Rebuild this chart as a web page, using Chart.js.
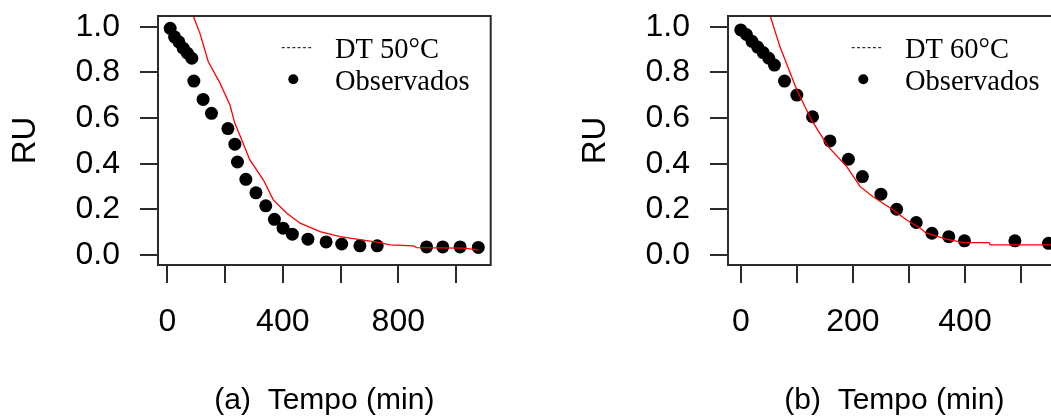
<!DOCTYPE html>
<html>
<head>
<meta charset="utf-8">
<script src="https://cdn.jsdelivr.net/npm/chart.js@4/dist/chart.umd.min.js"></script>
<style>
  html, body { margin: 0; padding: 0; background: #fff; overflow: hidden; }
  #wrap { position: relative; width: 1051px; height: 419px; overflow: hidden; }
  #wrap canvas { position: absolute; top: 0; }
  #cA { left: 0; }
  #cB { left: 570px; }
</style>
</head>
<body>
<div id="wrap">
  <canvas id="cA" width="525" height="419"></canvas>
  <canvas id="cB" width="525" height="419"></canvas>
</div>
<script>
// DT 50 °C - observados
var tempoObsA = [10, 25, 40, 55, 70, 85, 92, 124, 153, 210, 234, 243, 272, 307, 341, 371, 401, 433, 487, 550, 604, 667, 727, 898, 954, 1014, 1077];
var ruObsA = [0.993, 0.956, 0.934, 0.906, 0.884, 0.862, 0.762, 0.682, 0.621, 0.554, 0.486, 0.408, 0.332, 0.273, 0.216, 0.157, 0.118, 0.092, 0.070, 0.058, 0.049, 0.041, 0.041, 0.036, 0.036, 0.036, 0.034];
// DT 50 °C - modelo ajustado
var tempoFitA = [60, 90, 113, 142, 183, 217, 234, 258, 286, 333, 367, 414, 460, 529, 598, 691, 737, 771, 852, 864, 1025, 1077];
var ruFitA = [1.14, 1.047, 0.971, 0.847, 0.752, 0.657, 0.577, 0.504, 0.417, 0.329, 0.242, 0.184, 0.140, 0.103, 0.081, 0.064, 0.055, 0.045, 0.041, 0.033, 0.031, 0.023];

// DT 60 °C - observados
var tempoObsB = [0, 10, 20, 30, 40, 50, 60, 78, 100, 128, 159, 192, 217, 250, 278, 313, 341, 371, 399, 489, 549];
var ruObsB = [0.986, 0.966, 0.936, 0.911, 0.887, 0.862, 0.832, 0.762, 0.701, 0.606, 0.500, 0.420, 0.344, 0.267, 0.201, 0.143, 0.096, 0.081, 0.063, 0.063, 0.052];
// DT 60 °C - modelo ajustado
var tempoFitB = [30, 52, 70, 100, 126, 156, 189, 213, 236, 272, 296, 320, 331, 367, 397, 443, 445, 553];
var ruFitB = [1.22, 1.051, 0.912, 0.723, 0.592, 0.475, 0.388, 0.300, 0.256, 0.198, 0.154, 0.118, 0.096, 0.070, 0.055, 0.055, 0.045, 0.045];

var xTicksA = [0, 200, 400, 600, 800, 1000];
var xLabelsA = ['0', '', '400', '', '800', ''];
var xTicksB = [0, 100, 200, 300, 400, 500];
var xLabelsB = ['0', '', '200', '', '400', ''];
var yTicks = [0, 0.2, 0.4, 0.6, 0.8, 1.0];
var yLabels = ['0.0', '0.2', '0.4', '0.6', '0.8', '1.0'];

var AXIS_COLOR = '#2b2b2b';

function pairs(xs, ys) {
  return xs.map(function(x, i) { return { x: x, y: ys[i] }; });
}

// moldura em volta da area do grafico + legenda no canto superior direito
var boxLegend = {
  id: 'boxLegend',
  afterDraw: function(chart, args, opts) {
    var ctx = chart.ctx;
    var a = chart.chartArea;
    ctx.save();
    ctx.strokeStyle = AXIS_COLOR;
    ctx.lineWidth = 2;
    ctx.strokeRect(a.left, a.top, a.right - a.left, a.bottom - a.top);

    var tx = a.right - 155.7;
    ctx.font = '28.5px "Liberation Serif", "Times New Roman", serif';
    ctx.fillStyle = '#000';
    ctx.textBaseline = 'alphabetic';
    ctx.textAlign = 'left';
    ctx.fillText(opts.lineLabel, tx, 58.3);
    ctx.fillText(opts.pointLabel, tx, 90);

    ctx.strokeStyle = '#000';
    ctx.lineWidth = 1;
    ctx.setLineDash([3, 2.3]);
    ctx.beginPath();
    ctx.moveTo(tx - 53.3, 47.7);
    ctx.lineTo(tx - 21.7, 47.7);
    ctx.stroke();
    ctx.setLineDash([]);

    ctx.beginPath();
    ctx.arc(tx - 41.7, 79.3, 5, 0, Math.PI * 2);
    ctx.fill();
    ctx.restore();
  }
};

function makePanel(canvasId, obsX, obsY, fitX, fitY, xTicks, xLabels, xMin, xMax, title, lineLabel) {
  return new Chart(document.getElementById(canvasId), {
    type: 'scatter',
    data: {
      datasets: [
        {
          type: 'line',
          data: pairs(fitX, fitY),
          borderColor: '#ff0000',
          borderWidth: 1.3,
          pointRadius: 0,
          tension: 0,
          fill: false,
          clip: 0,
          order: 0
        },
        {
          data: pairs(obsX, obsY),
          backgroundColor: '#000',
          borderWidth: 0,
          pointRadius: 6.5,
          order: 1
        }
      ]
    },
    options: {
      responsive: false,
      animation: false,
      devicePixelRatio: 1,
      layout: { padding: { left: 0, top: 16, right: 34.3, bottom: 0 } },
      plugins: {
        legend: { display: false },
        tooltip: { enabled: false },
        boxLegend: { lineLabel: lineLabel, pointLabel: 'Observados' }
      },
      scales: {
        x: {
          type: 'linear',
          min: xMin,
          max: xMax,
          afterBuildTicks: function(axis) {
            axis.ticks = xTicks.map(function(v) { return { value: v }; });
          },
          afterFit: function(axis) {
            axis.height = 154;
            axis.paddingLeft = 0; axis.paddingRight = 0;
          },
          border: { display: false },
          grid: { drawOnChartArea: false, drawTicks: true, tickLength: 18, color: AXIS_COLOR, lineWidth: 2 },
          ticks: {
            autoSkip: false,
            maxRotation: 0,
            padding: 20,
            color: '#000',
            font: { family: '"Liberation Sans", Arial, sans-serif', size: 32 },
            callback: function(v, i) { return xLabels[i]; }
          },
          title: {
            display: true,
            text: title,
            color: '#000',
            padding: { top: 0, bottom: 0 },
            font: { family: '"Liberation Sans", Arial, sans-serif', size: 30 }
          }
        },
        y: {
          type: 'linear',
          min: -0.043,
          max: 1.047,
          afterBuildTicks: function(axis) {
            axis.ticks = yTicks.map(function(v) { return { value: v }; });
          },
          afterFit: function(axis) {
            axis.width = 158;
            axis.paddingTop = 0; axis.paddingBottom = 0;
          },
          border: { display: false },
          grid: { drawOnChartArea: false, drawTicks: true, tickLength: 18, color: AXIS_COLOR, lineWidth: 2 },
          ticks: {
            autoSkip: false,
            padding: 20,
            color: '#000',
            font: { family: '"Liberation Sans", Arial, sans-serif', size: 32 },
            callback: function(v, i) { return yLabels[i]; }
          },
          title: {
            display: true,
            text: 'RU',
            color: '#000',
            padding: { top: 6, bottom: 0 },
            font: { family: '"Liberation Sans", Arial, sans-serif', size: 33 }
          }
        }
      }
    },
    plugins: [boxLegend]
  });
}

makePanel('cA', tempoObsA, ruObsA, tempoFitA, ruFitA, xTicksA, xLabelsA, -32.2, 1120, '(a)  Tempo (min)', 'DT 50\u00B0C');
makePanel('cB', tempoObsB, ruObsB, tempoFitB, ruFitB, xTicksB, xLabelsB, -22.8, 570.7, '(b)  Tempo (min)', 'DT 60\u00B0C');
</script>
</body>
</html>
